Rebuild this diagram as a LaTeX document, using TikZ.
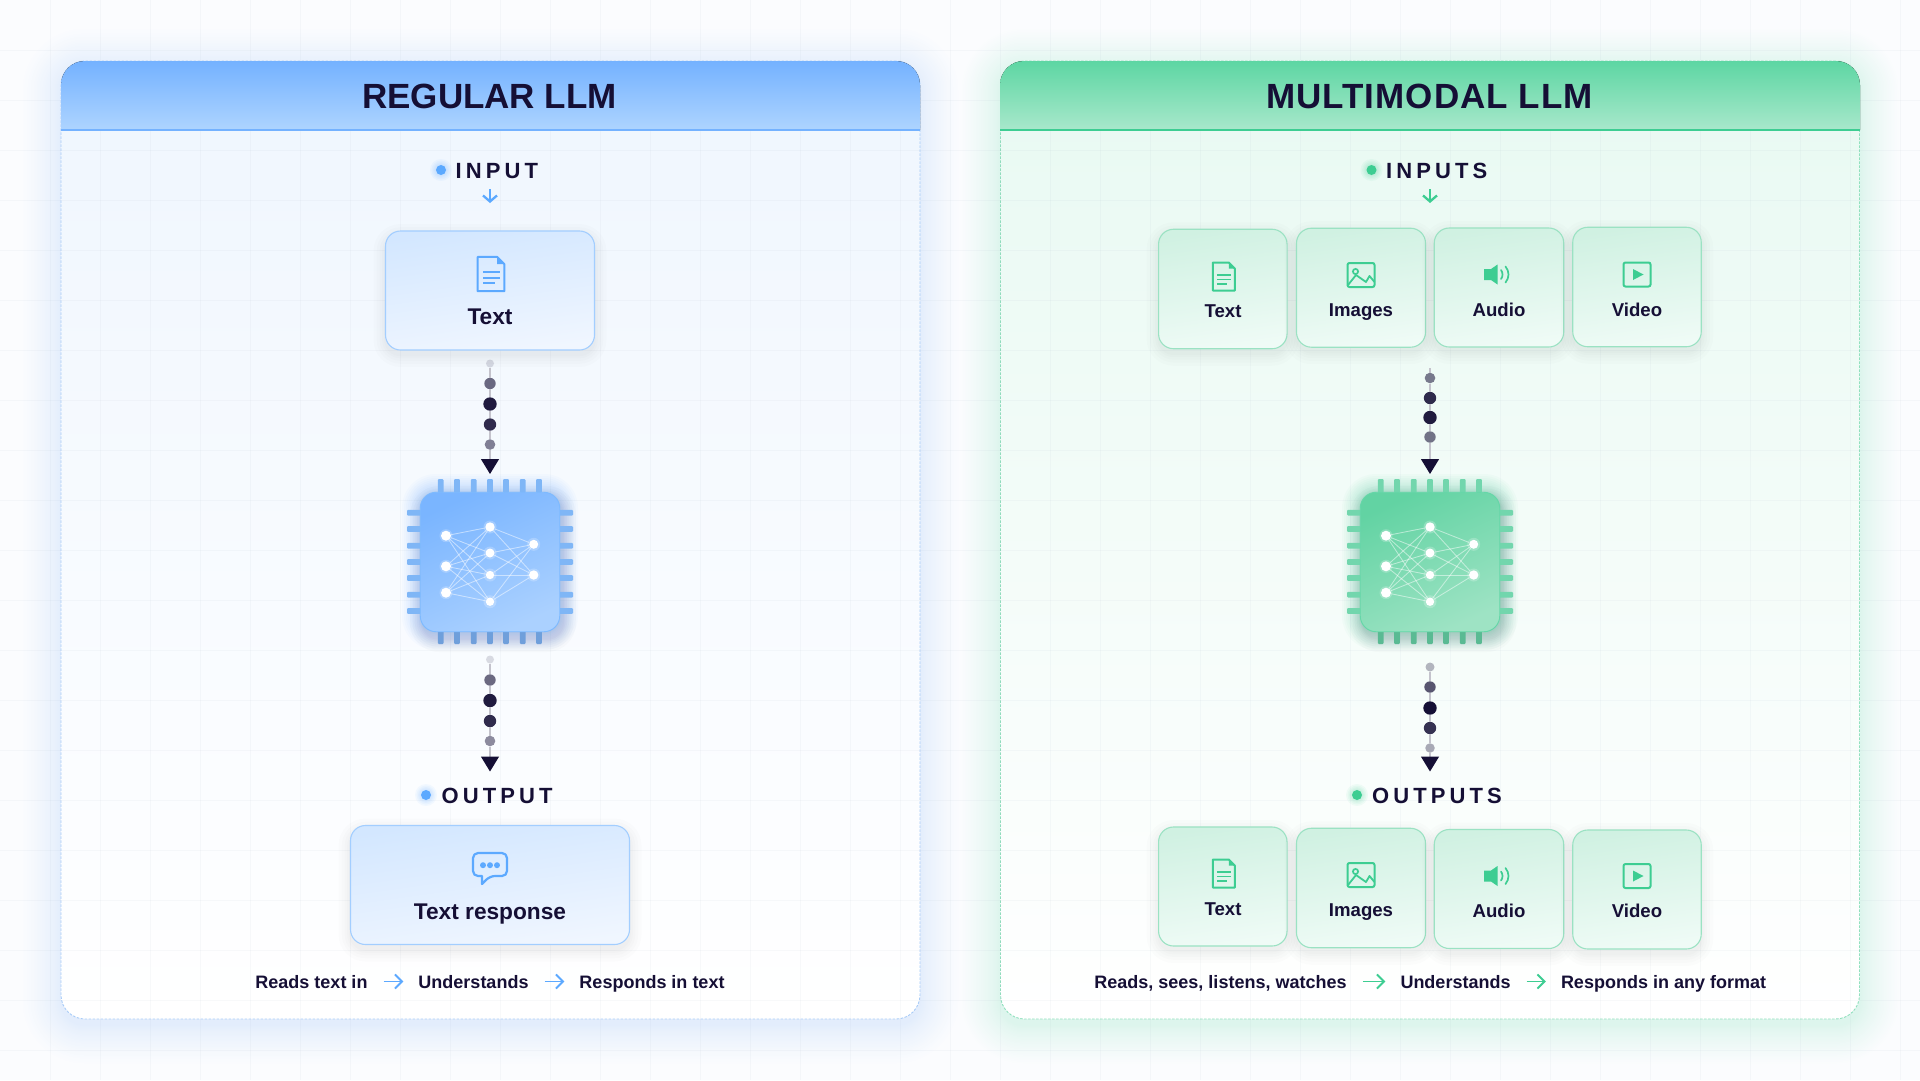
\documentclass[tikz,border=0pt]{standalone}
\usepackage{fontspec}
\setmainfont{Liberation Sans}
\usetikzlibrary{arrows.meta}
\definecolor{ink}{HTML}{150F35}
\definecolor{pagebg}{HTML}{FBFCFE}
\definecolor{gridc}{HTML}{8FA0B8}
\definecolor{lmain}{HTML}{5CA9FF}
\definecolor{rmain}{HTML}{3DCD92}
\definecolor{lglow}{HTML}{5C9BF0}
\definecolor{lhead1}{HTML}{74B2FF}
\definecolor{lhead2}{HTML}{AED4FF}
\definecolor{rhead1}{HTML}{5DD6A3}
\definecolor{rhead2}{HTML}{A8E8CB}
\definecolor{lpanel1}{HTML}{EFF6FE}
\definecolor{rpanel1}{HTML}{E8F9F2}
\definecolor{ldash}{HTML}{A8CCF8}
\definecolor{rdash}{HTML}{8FE0BD}
\definecolor{lcard1}{HTML}{D3E7FF}
\definecolor{lcard2}{HTML}{F0F6FF}
\definecolor{rcard1}{HTML}{D0F1E2}
\definecolor{rcard2}{HTML}{EFFBF6}
\definecolor{lcardb}{HTML}{A3CEFF}
\definecolor{rcardb}{HTML}{9BE2C3}
\definecolor{lchip1}{HTML}{7AB5FF}
\definecolor{lchip2}{HTML}{ABD1FF}
\definecolor{rchip1}{HTML}{62D3A3}
\definecolor{rchip2}{HTML}{9EE3C4}
\definecolor{lpin}{HTML}{7FB6F6}
\definecolor{lpinb}{HTML}{6F9FDB}
\definecolor{rpin}{HTML}{72D6AD}
\definecolor{rpinb}{HTML}{5ABA93}
\tikzset{
  x=1pt,y=-1pt,
  panelbox/.style={rounded corners=24,line width=.9,dashed,dash pattern=on 2.5pt off 1.5pt,minimum width=859,minimum height=958,inner sep=0},
  cardbox/.style={rounded corners=15,line width=1.1,inner sep=0},
  titletext/.style={font=\fontsize{35}{40}\selectfont\bfseries,text=ink,inner sep=0,text height=25,text depth=0},
  sectext/.style={font=\fontsize{22}{26}\selectfont\bfseries\addfontfeature{LetterSpace=18.5},text=ink,inner sep=0,anchor=west,text height=16,text depth=0},
  cardbig/.style={font=\fontsize{22.7}{26}\selectfont\bfseries,text=ink,inner sep=0,text height=16.3,text depth=0},
  cardsmall/.style={font=\fontsize{18.6}{22}\selectfont\bfseries,text=ink,inner sep=0,text height=13.4,text depth=0},
  foottext/.style={font=\fontsize{18}{22}\selectfont\bfseries,text=ink,inner sep=0,text height=13,text depth=0},
  flowarrow/.style={line width=1.9,-{Straight Barb[length=7,width=14]},shorten <=16,shorten >=15},
  hintarrow/.style={line width=2.3,-{Straight Barb[length=6,width=14]}},
  secdot/.style={circle,minimum size=10,inner sep=0},
  flowdot/.style={circle,fill=ink,inner sep=0},
  flowtail/.style={draw=ink!25,line width=1.2},
  flowhead/.style={draw=ink!25,line width=1.2,-{Triangle[length=15,width=18,color=ink]}},
  netnode/.style={circle,fill=white,inner sep=0},
  netedge/.style={draw=white,draw opacity=.5,line width=.85},
}
% translucent soft glow: [steps] cx cy w h r spread colour alpha
\newcommand\softbox[9][10]{%
  \foreach \softi in {1,...,#1}{%
    \pgfmathsetmacro\softe{#7*pow(\softi/#1,1.4)}%
    \pgfmathsetmacro\softr{#6+\softe}%
    \pgfmathsetmacro\softo{#9/#1}%
    \fill[#8,opacity=\softo,rounded corners=\softr pt]
      ({#2-#4/2-\softe},{#3-#5/2-\softe}) rectangle ({#2+#4/2+\softe},{#3+#5/2+\softe});
  }}
% opaque page glow: cx cy w h r spread colour maxpercent
\newcommand\pageglow[8]{%
  \foreach \softi in {30,29,...,1}{%
    \pgfmathsetmacro\softe{#6*pow(\softi/30,1.3)}%
    \pgfmathsetmacro\softr{#5+\softe}%
    \pgfmathsetmacro\softp{#8*(31-\softi)/30}%
    \fill[#7!\softp!pagebg,rounded corners=\softr pt]
      ({#1-#3/2-\softe},{#2-#4/2-\softe}) rectangle ({#1+#3/2+\softe},{#2+#4/2+\softe});
  }}
% icons: cx cy colour scale
\newcommand\docicon[4]{\begin{scope}[shift={(#1,#2)},scale=#4]
  \draw[#3,line width=2,line join=round] (-11,-14) -- (5,-14) -- (11,-8) -- (11,14) -- (-11,14) -- cycle;
  \fill[#3] (5,-14) -- (11,-8) -- (5,-8) -- cycle;
  \draw[#3,line width=1.7] (-6.5,-1.5) -- (7,-1.5) (-6.5,3) -- (7,3) (-6.5,7.5) -- (3,7.5);
\end{scope}}
\newcommand\imgicon[4]{\begin{scope}[shift={(#1,#2)},scale=#4]
  \draw[#3,line width=2,rounded corners=2] (-13.5,-12) rectangle (13.5,12);
  \draw[#3,line width=1.7] (-5.5,-3.5) circle[radius=2.6];
  \draw[#3,line width=1.8,line join=round] (-13,10) -- (-5,0) -- (5,7) -- (8.5,1) -- (13.5,7);
\end{scope}}
\newcommand\spkicon[4]{\begin{scope}[shift={(#1,#2)},scale=#4]
  \fill[#3] (-13,-5.5) -- (-6,-5.5) -- (0.5,-10) -- (0.5,10) -- (-6,5.5) -- (-13,5.5) -- cycle;
  \draw[#3,line width=1.7,line cap=round] (4,-4.5) .. controls (6,-2) and (6,2) .. (4,4.5);
  \draw[#3,line width=1.7,line cap=round] (8.5,-8) .. controls (12.5,-3) and (12.5,3) .. (8.5,8);
\end{scope}}
\newcommand\vidicon[4]{\begin{scope}[shift={(#1,#2)},scale=#4]
  \draw[#3,line width=2,rounded corners=2] (-13.5,-12) rectangle (13.5,12);
  \fill[#3] (-4,-5.5) -- (6.5,0) -- (-4,5.5) -- cycle;
\end{scope}}
\newcommand\chatsym[3]{\begin{scope}[shift={(#1,#2)}]
  \draw[#3,line width=2.2,line join=round,rounded corners=5] (-17,-14) -- (17,-14) -- (17,9) -- (0,9) [sharp corners] -- (-8,17) -- (-8,9) [rounded corners=5] -- (-17,9) -- cycle;
  \fill[#3] (-7,-1.8) circle[radius=3] (0,-1.8) circle[radius=3] (7,-1.8) circle[radius=3];
\end{scope}}
% chip: prefix(l/r) cx cy
\newcommand\chipsym[3]{%
  \softbox[12]{#2}{#3}{140}{140}{16}{18}{#1main}{.36}%
  \softbox[7]{#2+3}{#3+7}{140}{140}{16}{13}{ink}{.12}%
  \foreach \po in {-49.3,-33,-16.3,0,16,32.7,49}{%
    \fill[#1pin,rounded corners=1] ({#2+\po-2.8},{#3-83}) rectangle ({#2+\po+2.8},{#3-69});
    \fill[#1pinb,rounded corners=1] ({#2+\po-2.8},{#3+69}) rectangle ({#2+\po+2.8},{#3+82});
    \fill[#1pin,rounded corners=1] ({#2-83},{#3+\po-2.8}) rectangle ({#2-69},{#3+\po+2.8});
    \fill[#1pin,rounded corners=1] ({#2+69},{#3+\po-2.8}) rectangle ({#2+83},{#3+\po+2.8});
  }
  \node[rounded corners=16,minimum size=139.5,inner sep=0,draw=#1main!80,line width=.9,top color=#1chip1,bottom color=#1chip2,shading angle=25] (#1chip) at (#2,#3) {};
  \node[netnode,minimum size=10] (#1a1) at ({#2-44},{#3-26.3}) {};
  \node[netnode,minimum size=10] (#1a2) at ({#2-44},{#3+4.3}) {};
  \node[netnode,minimum size=10] (#1a3) at ({#2-44},{#3+30.7}) {};
  \node[netnode,minimum size=9.4] (#1b1) at (#2,{#3-35}) {};
  \node[netnode,minimum size=9] (#1b2) at (#2,{#3-9}) {};
  \node[netnode,minimum size=8.4] (#1b3) at (#2,{#3+13}) {};
  \node[netnode,minimum size=8.4] (#1b4) at (#2,{#3+39.7}) {};
  \node[netnode,minimum size=9] (#1c1) at ({#2+43.7},{#3-17.7}) {};
  \node[netnode,minimum size=9.4] (#1c2) at ({#2+43.7},{#3+13}) {};
  \foreach \pa in {1,2,3}{\foreach \pb in {1,2,3,4}{\draw[netedge] (#1a\pa) -- (#1b\pb);}}
  \foreach \pb in {1,2,3,4}{\foreach \pc in {1,2}{\draw[netedge] (#1b\pb) -- (#1c\pc);}}
  \foreach \pn in {a1,a2,a3,b1,b2,b3,b4,c1,c2}{\fill[white,opacity=.22] (#1\pn) circle[radius=6.5];}
}
% card: name prefix cx cy w h
\newcommand\cardsym[6]{%
  \softbox[5]{#3}{#4+5}{#5}{#6}{15}{12}{ink}{.05}%
  \node[cardbox,draw=#2cardb,top color=#2card1,bottom color=#2card2,shading angle=8,minimum width=#5,minimum height=#6] (#1) at (#3,#4) {};
}
\begin{document}
\begin{tikzpicture}
\useasboundingbox (0,0) rectangle (1920,1080);
\fill[pagebg] (0,0) rectangle (1920,1080);
% panel glows
\pageglow{490.5}{546}{859}{958}{24}{38}{lglow}{15}
\pageglow{1430}{546}{860}{958}{24}{38}{rmain}{16}
% panels
\node[panelbox,draw=ldash,top color=lpanel1,bottom color=white] (lpanel) at (490.5,540) {};
\node[panelbox,draw=rdash,top color=rpanel1,bottom color=white] (rpanel) at (1430,540) {};
% grid
\foreach \gx in {50,100,...,1900}{\draw[gridc,opacity=.06,line width=.8] (\gx,0) -- (\gx,1080);}
\foreach \gy in {50,100,...,1050}{\draw[gridc,opacity=.06,line width=.8] (0,\gy) -- (1920,\gy);}
% headers
\fill[top color=lhead1,bottom color=lhead2,rounded corners=24] (61,130) -- (61,61) -- (920,61) [sharp corners] -- (920,130) -- cycle;
\fill[top color=rhead1,bottom color=rhead2,rounded corners=24] (1000,130) -- (1000,61) -- (1860,61) [sharp corners] -- (1860,130) -- cycle;
\draw[lhead1,line width=1.8] (lpanel.west |- 0,130) -- (lpanel.east |- 0,130);
\draw[rmain,line width=1.8] (rpanel.west |- 0,130) -- (rpanel.east |- 0,130);
\node[titletext] (ltitle) at (489.5,95.5) {REGULAR LLM};
\node[titletext] (rtitle) at (1429.5,95.5) {\addfontfeature{LetterSpace=3}MULTIMODAL LLM};
% section labels
\softbox[5]{441}{170}{10}{10}{5}{6}{lmain}{.3}
\node[secdot,fill=lmain] (linDot) at (441,170) {};
\node[sectext] (linLab) at (455.5,170) {INPUT};
\coordinate (lhintA) at (490,189); \coordinate (lhintB) at (490,203);
\draw[hintarrow,lmain] (lhintA) -- (lhintB);
\softbox[5]{1371.5}{170}{10}{10}{5}{6}{rmain}{.3}
\node[secdot,fill=rmain] (rinDot) at (1371.5,170) {};
\node[sectext] (rinLab) at (1386,170) {INPUTS};
\coordinate (rhintA) at (1430,189); \coordinate (rhintB) at (1430,203);
\draw[hintarrow,rmain] (rhintA) -- (rhintB);
\softbox[5]{426}{795}{10}{10}{5}{6}{lmain}{.3}
\node[secdot,fill=lmain] (loutDot) at (426,795) {};
\node[sectext] (loutLab) at (441.5,795) {OUTPUT};
\softbox[5]{1357}{795}{10}{10}{5}{6}{rmain}{.3}
\node[secdot,fill=rmain] (routDot) at (1357,795) {};
\node[sectext] (routLab) at (1372,795) {OUTPUTS};
% left cards
\cardsym{lin}{l}{490}{290.5}{209}{119}
\docicon{491}{274}{lmain}{1.22}
\node[cardbig] (linText) at (490,316) {Text};
\cardsym{lout}{l}{490}{885}{279}{119}
\chatsym{490}{867}{lmain}
\node[cardbig] (loutText) at (490,911) {Text response};
% right input cards
\cardsym{ri1}{r}{1222.8}{289}{128.5}{119.5}
\cardsym{ri2}{r}{1361}{287.7}{129}{119}
\cardsym{ri3}{r}{1499}{287.5}{129.5}{119}
\cardsym{ri4}{r}{1637}{287}{128.5}{119.5}
\docicon{1223.8}{276.5}{rmain}{1}
\imgicon{1361}{275}{rmain}{1}
\spkicon{1497}{274.5}{rmain}{1}
\vidicon{1637}{274.5}{rmain}{1}
\node[cardsmall] (ri1t) at (1223,310.5) {Text};
\node[cardsmall] (ri2t) at (1361,310) {Images};
\node[cardsmall] (ri3t) at (1499,310) {Audio};
\node[cardsmall] (ri4t) at (1637,310) {Video};
% right output cards
\cardsym{ro1}{r}{1222.8}{886.5}{128.5}{119}
\cardsym{ro2}{r}{1361}{888}{129}{119.5}
\cardsym{ro3}{r}{1499}{889}{129.5}{119}
\cardsym{ro4}{r}{1637}{889.5}{128.5}{119}
\docicon{1223.8}{873.5}{rmain}{1}
\imgicon{1361}{875}{rmain}{1}
\spkicon{1497}{876}{rmain}{1}
\vidicon{1637}{876}{rmain}{1}
\node[cardsmall] (ro1t) at (1223,908.5) {Text};
\node[cardsmall] (ro2t) at (1361,910) {Images};
\node[cardsmall] (ro3t) at (1499,911) {Audio};
\node[cardsmall] (ro4t) at (1637,911) {Video};
% chips
\chipsym{l}{490}{562}
\chipsym{r}{1430}{562}
% connector left top
\node[flowdot,minimum size=8,opacity=.14] (la1) at (490,363.5) {};
\node[flowdot,minimum size=11.4,opacity=.62] (la2) at (490,383.5) {};
\node[flowdot,minimum size=13.4,opacity=.95] (la3) at (490,404) {};
\node[flowdot,minimum size=12.4,opacity=.88] (la4) at (490,424.5) {};
\node[flowdot,minimum size=10.6,opacity=.52] (la5) at (490,444.5) {};
\coordinate (laEnd) at (490,474);
\draw[flowtail] (la1) -- (la2) (la2) -- (la3) (la3) -- (la4) (la4) -- (la5);
\draw[flowhead] (la5) -- (laEnd);
% connector left bottom
\node[flowdot,minimum size=8,opacity=.14] (lb1) at (490,659.5) {};
\node[flowdot,minimum size=11.4,opacity=.62] (lb2) at (490,680) {};
\node[flowdot,minimum size=13.4,opacity=.95] (lb3) at (490,700.5) {};
\node[flowdot,minimum size=12.4,opacity=.88] (lb4) at (490,721) {};
\node[flowdot,minimum size=10.6,opacity=.48] (lb5) at (490,741) {};
\coordinate (lbEnd) at (490,771.5);
\draw[flowtail] (lb1) -- (lb2) (lb2) -- (lb3) (lb3) -- (lb4) (lb4) -- (lb5);
\draw[flowhead] (lb5) -- (lbEnd);
% connector right top
\coordinate (raStart) at (1430,368);
\node[flowdot,minimum size=10.6,opacity=.55] (ra1) at (1430,378) {};
\node[flowdot,minimum size=12.4,opacity=.88] (ra2) at (1430,398) {};
\node[flowdot,minimum size=13.4,opacity=.95] (ra3) at (1430,417.5) {};
\node[flowdot,minimum size=11.4,opacity=.58] (ra4) at (1430,437) {};
\coordinate (raEnd) at (1430,474);
\draw[flowtail] (raStart) -- (ra1) (ra1) -- (ra2) (ra2) -- (ra3) (ra3) -- (ra4);
\draw[flowhead] (ra4) -- (raEnd);
% connector right bottom
\node[flowdot,minimum size=9,opacity=.3] (rb1) at (1430,667) {};
\node[flowdot,minimum size=11.4,opacity=.7] (rb2) at (1430,687) {};
\node[flowdot,minimum size=13.4,opacity=1] (rb3) at (1430,708) {};
\node[flowdot,minimum size=12.4,opacity=.85] (rb4) at (1430,728) {};
\node[flowdot,minimum size=9.5,opacity=.35] (rb5) at (1430,748) {};
\coordinate (rbEnd) at (1430,771.5);
\draw[flowtail] (rb1) -- (rb2) (rb2) -- (rb3) (rb3) -- (rb4) (rb4) -- (rb5);
\draw[flowhead] (rb5) -- (rbEnd);
% footers
\node[foottext] (lf1) at (311.5,981.5) {Reads text in};
\node[foottext] (lf2) at (473.5,981.5) {Understands};
\node[foottext] (lf3) at (652,981.5) {Responds in text};
\draw[flowarrow,lmain] (lf1) -- (lf2);
\draw[flowarrow,lmain] (lf2) -- (lf3);
\node[foottext] (rf1) at (1220.5,981.5) {Reads, sees, listens, watches};
\node[foottext] (rf2) at (1455.5,981.5) {Understands};
\node[foottext] (rf3) at (1663.5,981.5) {Responds in any format};
\draw[flowarrow,rmain] (rf1) -- (rf2);
\draw[flowarrow,rmain] (rf2) -- (rf3);
\end{tikzpicture}
\end{document}
